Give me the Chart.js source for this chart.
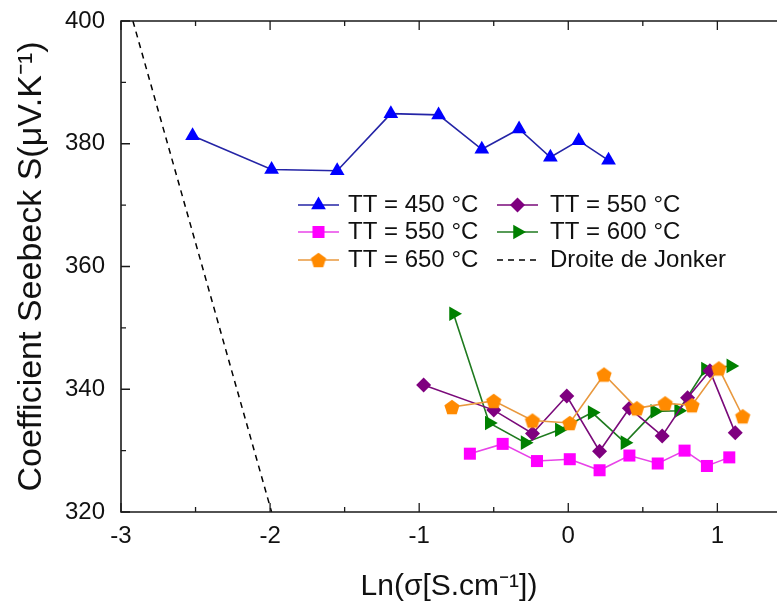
<!DOCTYPE html>
<html>
<head>
<meta charset="utf-8">
<script src="https://cdn.jsdelivr.net/npm/chart.js@4.4.1/dist/chart.umd.min.js"></script>
<style>
  html, body { margin: 0; padding: 0; background: #fff; }
  #wrap { width: 777px; height: 605px; position: relative; }
</style>
</head>
<body>
<div id="wrap"><canvas id="myChart"></canvas></div>
<script>
// Ln(sigma) and Seebeck coefficient (uV/K)
var tt450_x = [-2.52, -1.99, -1.55, -1.19, -0.87, -0.58, -0.33, -0.12, 0.07, 0.27];
var tt450_y = [381.3, 375.8, 375.6, 384.9, 384.7, 379.1, 382.4, 377.8, 380.5, 377.3];

var tt550m_x = [-0.66, -0.44, -0.21, 0.01, 0.21, 0.41, 0.60, 0.78, 0.93, 1.08];
var tt550m_y = [329.5, 331.1, 328.3, 328.6, 326.8, 329.2, 327.9, 330.0, 327.5, 328.9];

var tt550p_x = [-0.97, -0.50, -0.24, -0.01, 0.21, 0.41, 0.63, 0.80, 0.95, 1.12];
var tt550p_y = [340.7, 336.6, 332.8, 338.9, 329.9, 336.9, 332.4, 338.6, 343.0, 332.9];

var tt600_x = [-0.77, -0.53, -0.29, -0.06, 0.16, 0.38, 0.58, 0.74, 0.92, 1.09];
var tt600_y = [352.3, 334.5, 331.3, 333.4, 336.2, 331.3, 336.4, 336.5, 343.3, 343.8];

var tt650_x = [-0.78, -0.50, -0.24, 0.01, 0.24, 0.46, 0.65, 0.83, 1.01, 1.17];
var tt650_y = [337.1, 338.1, 334.9, 334.5, 342.4, 336.9, 337.7, 337.4, 343.4, 335.6];

var jonker_x = [-2.92, -1.99];
var jonker_y = [400, 320];

var xTicks = [-3, -2, -1, 0, 1];
var yTicks = [320, 340, 360, 380, 400];

var FONT = "'Liberation Sans', Arial, Helvetica, sans-serif";

function pts(xs, ys) {
  return xs.map(function (x, i) { return { x: x, y: ys[i] }; });
}

// orange pentagon marker (no built-in pentagon in Chart.js)
function pentagon(color, r) {
  var c = document.createElement('canvas');
  c.width = c.height = Math.ceil(2 * r + 2);
  var g = c.getContext('2d');
  var cx = c.width / 2, cy = c.height / 2 + r * 0.095;
  g.beginPath();
  for (var i = 0; i < 5; i++) {
    var a = -Math.PI / 2 + i * 2 * Math.PI / 5;
    var px = cx + r * Math.cos(a), py = cy + r * Math.sin(a);
    if (i === 0) g.moveTo(px, py); else g.lineTo(px, py);
  }
  g.closePath();
  g.fillStyle = color;
  g.fill();
  return c;
}
var penta = pentagon('#ff8a00', 8);

// frame with inward ticks (left, bottom, top)
var framePlugin = {
  id: 'frame',
  afterDraw: function (chart) {
    var ctx = chart.ctx, a = chart.chartArea;
    var xs = chart.scales.x, ys = chart.scales.y;
    ctx.save();
    ctx.strokeStyle = '#1a1a1a';
    ctx.lineWidth = 1.6;
    ctx.beginPath();
    ctx.moveTo(a.right + 2, a.top);
    ctx.lineTo(a.left, a.top);
    ctx.lineTo(a.left, a.bottom);
    ctx.lineTo(a.right + 2, a.bottom);
    ctx.stroke();

    ctx.lineWidth = 1.3;
    ctx.beginPath();
    xTicks.forEach(function (v) {
      [v, v + 0.5].forEach(function (t, k) {
        if (t < xs.min || t > xs.max) return;
        var px = xs.getPixelForValue(t), len = k === 0 ? 9 : 5;
        ctx.moveTo(px, a.bottom); ctx.lineTo(px, a.bottom - len);
        ctx.moveTo(px, a.top); ctx.lineTo(px, a.top + len);
      });
    });
    yTicks.forEach(function (v) {
      [v, v + 10].forEach(function (t, k) {
        if (t < ys.min || t > ys.max) return;
        var py = ys.getPixelForValue(t), len = k === 0 ? 9 : 5;
        ctx.moveTo(a.left, py); ctx.lineTo(a.left + len, py);
      });
    });
    ctx.stroke();
    ctx.restore();
  }
};

// two-column legend inside the plot
var legendPlugin = {
  id: 'boxLegend',
  afterDraw: function (chart) {
    var ctx = chart.ctx;
    var cols = [[298, 348], [497, 550]];
    var rows = [205, 232, 260];
    var slots = [[1, 0, 0], [4, 1, 0], [2, 0, 1], [5, 1, 1], [3, 0, 2], [0, 1, 2]];
    ctx.save();
    slots.forEach(function (s) {
      var ds = chart.data.datasets[s[0]];
      var x0 = cols[s[1]][0], tx = cols[s[1]][1], y = rows[s[2]];
      ctx.strokeStyle = ds.borderColor;
      ctx.lineWidth = ds.borderWidth;
      ctx.setLineDash(ds.borderDash || []);
      ctx.beginPath();
      ctx.moveTo(x0, y); ctx.lineTo(x0 + 41, y);
      ctx.stroke();
      ctx.setLineDash([]);
      if (ds.pointRadius > 0 && Chart.helpers && Chart.helpers.drawPoint) {
        ctx.fillStyle = ds.pointBackgroundColor;
        ctx.strokeStyle = ds.pointBackgroundColor;
        Chart.helpers.drawPoint(ctx, {
          pointStyle: ds.pointStyle, rotation: ds.pointRotation || 0,
          radius: ds.pointRadius, borderWidth: 0
        }, x0 + 20.5, y);
      }
      ctx.fillStyle = '#111';
      ctx.font = '24px ' + FONT;
      ctx.textBaseline = 'middle';
      ctx.textAlign = 'left';
      ctx.fillText(ds.label, tx, y);
    });
    ctx.restore();
  }
};

function series(label, xs, ys, line, marker, style, radius, rot) {
  return {
    label: label,
    data: pts(xs, ys),
    showLine: true,
    borderColor: line,
    borderWidth: 1.6,
    pointStyle: style,
    pointRotation: rot || 0,
    pointRadius: radius,
    pointHoverRadius: radius,
    pointBackgroundColor: marker,
    pointBorderColor: marker,
    pointBorderWidth: 0
  };
}

var ctx = document.getElementById('myChart').getContext('2d');
var myChart = new Chart(ctx, {
  type: 'scatter',
  data: {
    datasets: [
      {
        label: 'Droite de Jonker',
        data: pts(jonker_x, jonker_y),
        showLine: true,
        borderColor: '#000',
        borderWidth: 1.5,
        borderDash: [6, 5],
        pointRadius: 0
      },
      series('TT = 450 °C', tt450_x, tt450_y, '#2424a6', '#0000ff', 'triangle', 8.5),
      series('TT = 550 °C', tt550m_x, tt550m_y, '#e844e8', '#ff00ff', 'rect', 8.5),
      series('TT = 650 °C', tt650_x, tt650_y, '#e8983e', '#ff8a00', penta, 8),
      series('TT = 550 °C', tt550p_x, tt550p_y, '#7a0a7a', '#7f007f', 'rectRot', 7.5),
      series('TT = 600 °C', tt600_x, tt600_y, '#1f7a1f', '#008000', 'triangle', 8.5, 90)
    ]
  },
  options: {
    responsive: true,
    maintainAspectRatio: false,
    animation: false,
    layout: { autoPadding: false, padding: { top: 21, right: 0, bottom: 0, left: 0 } },
    plugins: {
      legend: { display: false },
      tooltip: { enabled: false }
    },
    scales: {
      x: {
        type: 'linear',
        min: -3,
        max: 1.4,
        afterBuildTicks: function (s) { s.ticks = xTicks.map(function (v) { return { value: v }; }); },
        afterFit: function (s) { s.height = 93; },
        grid: { display: false, drawTicks: true, tickLength: 10 },
        border: { display: false },
        ticks: { padding: 0, color: '#111', font: { family: FONT, size: 24 } },
        title: {
          display: true,
          text: 'Ln(σ[S.cm⁻¹])',
          color: '#111',
          padding: 0,
          font: { family: FONT, size: 30 }
        }
      },
      y: {
        min: 320,
        max: 400,
        afterBuildTicks: function (s) { s.ticks = yTicks.map(function (v) { return { value: v }; }); },
        afterFit: function (s) { s.width = 121; },
        grid: { display: false, drawTicks: true, tickLength: 16 },
        border: { display: false },
        ticks: { padding: 0, color: '#111', font: { family: FONT, size: 24 } },
        title: {
          display: true,
          text: 'Coefficient Seebeck S(μV.K⁻¹)',
          color: '#111',
          padding: { top: 11, bottom: 0 },
          font: { family: FONT, size: 34 }
        }
      }
    }
  },
  plugins: [framePlugin, legendPlugin]
});
</script>
</body>
</html>
